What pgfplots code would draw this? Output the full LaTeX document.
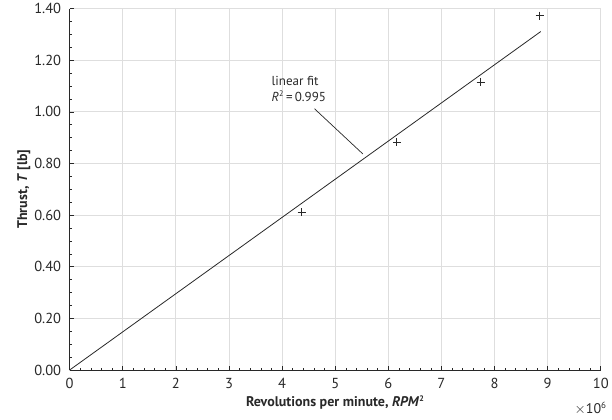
\documentclass[border=0pt]{standalone}
\usepackage{pgfplots}
\pgfplotsset{compat=1.18}
\usepackage{fontspec}
\setmainfont{PT Sans}
\definecolor{gridgray}{RGB}{222,222,222}
\definecolor{ink}{RGB}{40,40,40}
\begin{document}
\begin{tikzpicture}
\begin{axis}[
  scale only axis,
  width=529bp, height=360bp,
  xmin=0, xmax=10, ymin=0, ymax=1.4,
  xtick={0,1,...,10},
  ytick={0,0.2,0.4,0.6,0.8,1.0,1.2,1.4},
  minor x tick num=4,
  minor y tick num=3,
  axis x line*=bottom, axis y line*=left,
  axis line style={ink, line width=0.8pt, -},
  tick style={ink, line width=0.6pt},
  major tick length=4pt, minor tick length=2.5pt,
  tick align=inside,
  grid=major,
  major grid style={gridgray, line width=0.9pt},
  /pgf/number format/assume math mode=true,
  yticklabel style={/pgf/number format/.cd, fixed, fixed zerofill, precision=2, /tikz/xshift=-5bp},
  xticklabel style={/pgf/number format/.cd, fixed, /tikz/yshift=-5bp},
  ticklabel style={font=\fontsize{14.5}{16}\selectfont, text=ink},
  xlabel={\textbf{Revolutions per minute, \textit{RPM}\textsuperscript{\footnotesize 2}}},
  ylabel={\textbf{Thrust, \textit{T} [lb]}},
  label style={font=\fontsize{14}{16}\selectfont, text=ink},
  xlabel style={yshift=0pt},
  ylabel style={yshift=-3pt},
  clip=false,
]
% measured thrust versus RPM^2 (x in units of 10^6)
\addplot[only marks, mark=+, mark size=4pt, ink, line width=0.7pt] coordinates {
  (4.37,0.611) (6.16,0.883) (7.74,1.116) (8.85,1.373)
};
% linear fit through the origin
\addplot[ink, line width=0.8pt] coordinates {(0,0) (8.87,1.311)};
% annotation for the fit
\draw[ink, line width=0.7pt] (axis cs:4.61,1.012) -- (axis cs:5.52,0.837);
\node[anchor=north west, align=left, inner sep=0pt, text=ink,
      font=\fontsize{13}{16}\selectfont]
  at (axis cs:3.80,1.140) {linear fit\\\textit{R}\textsuperscript{\footnotesize 2}\,=\,0.995};
\node[anchor=east, inner sep=0pt, text=ink, font=\fontsize{14}{16}\selectfont]
  at ([yshift=-38bp, xshift=6bp]rel axis cs:1,0) {$\times$10\textsuperscript{\small 6}};
\end{axis}
% white margin round the labels
\path ([xshift=-14bp]current bounding box.west);
\path ([yshift=-5bp]current bounding box.south);
\end{tikzpicture}
\end{document}
